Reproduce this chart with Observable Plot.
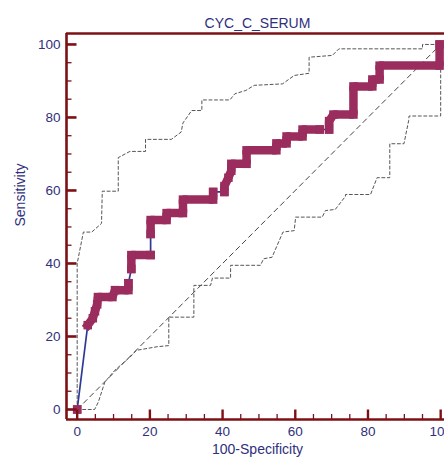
<!DOCTYPE html>
<html><head><meta charset="utf-8">
<script src="https://cdn.jsdelivr.net/npm/d3@7"></script>
<script src="https://cdn.jsdelivr.net/npm/@observablehq/plot@0.6"></script>
<style>html,body{margin:0;padding:0;overflow:hidden;background:#fff}</style>
</head><body><div id="chart"></div>
<script>
const title = "CYC_C_SERUM";
const xLabel = "100-Specificity";
const yLabel = "Sensitivity";
const majorTicks = [0, 20, 40, 60, 80, 100];
const minorTicks = [5, 10, 15, 25, 30, 35, 45, 50, 55, 65, 70, 75, 85, 90, 95];
const xDomain = [-2.94, 101.05];
const yDomain = [-2.74, 103.0];

// ROC curve points: run id (tied jumps separate runs), 100-Specificity, Sensitivity
const rocRun = [0,
  1,1,1,1,1,1,1,1,1,
  2,2,2,
  3,3,3,3,3,3,3,3,
  4,4,4,4,4,4,4,4,4,4,4,4,4,4,
  5,5,5,5,5,5,5,5,5,5,5];
const rocFpr = [0,
  2.9, 4.3, 4.9, 5.5, 5.7, 9.7, 10.4, 14.1, 14.1,
  14.9, 14.9, 20.2,
  20.2, 20.2, 24.6, 24.6, 29.1, 29.1, 37.4, 37.4,
  40.5, 40.5, 41.6, 42.4, 42.4, 46.6, 46.6, 54.8, 54.8, 57.6, 57.6, 62.0, 62.0, 66.7,
  69.3, 69.3, 70.5, 76.0, 76.0, 81.2, 81.2, 83.2, 83.2, 99.7, 99.7];
const rocTpr = [0,
  23.1, 25.0, 26.9, 28.8, 30.8, 30.8, 32.7, 32.7, 34.6,
  38.5, 42.3, 42.3,
  48.1, 51.9, 51.9, 53.8, 53.8, 57.5, 57.5, 59.6,
  59.6, 61.2, 63.5, 65.4, 67.3, 67.3, 71.0, 71.0, 72.9, 72.9, 74.8, 74.8, 76.7, 76.7,
  76.7, 79.0, 80.8, 80.8, 88.5, 88.5, 90.4, 90.4, 94.2, 94.2, 100];

// 95% confidence bounds
const upperFpr = [0, 0, 1.7, 4.0, 6.7, 6.9, 11.3, 11.3, 14.5, 18.8, 18.8, 25.9, 28.6, 29.1, 31.5, 34.3, 34.3, 42.0, 43.4, 46.4, 48.7, 56.5, 59.7, 63.8, 63.8, 70.2, 72.0, 95.0, 95.0, 100];
const upperTpr = [0, 40.0, 48.6, 48.6, 51.0, 59.8, 59.8, 69.0, 70.7, 70.7, 74.0, 74.0, 76.0, 78.5, 81.9, 81.9, 84.8, 84.8, 86.5, 87.4, 88.8, 89.2, 91.5, 92.1, 96.5, 97.0, 98.8, 98.8, 100, 100];
const lowerFpr = [0, 4.8, 5.8, 7.6, 10.3, 13.4, 14.5, 16.3, 22.0, 25.2, 25.2, 32.1, 32.1, 36.7, 37.2, 42.2, 42.2, 50.4, 51.3, 53.6, 56.6, 59.7, 60.1, 67.4, 68.3, 71.0, 73.8, 73.8, 80.7, 82.5, 86.0, 86.0, 89.9, 91.2, 91.3, 100, 100];
const lowerTpr = [0, 0, 2.0, 7.5, 10.7, 13.4, 14.3, 16.2, 17.2, 17.5, 25.3, 25.3, 34.0, 34.0, 36.0, 36.0, 39.5, 39.5, 41.3, 41.7, 48.6, 49.0, 52.7, 52.7, 54.5, 54.8, 58.4, 58.9, 58.9, 63.5, 63.5, 72.8, 72.8, 79.2, 80.4, 80.4, 100];
const diagFpr = [0, 100];
const diagTpr = [0, 100];

const toPts = (xs, ys) => xs.map((x, i) => ({x, y: ys[i]}));
const roc = rocFpr.map((x, i) => ({x, y: rocTpr[i], run: rocRun[i]}));
const upper = toPts(upperFpr, upperTpr);
const lower = toPts(lowerFpr, lowerTpr);
const diag = toPts(diagFpr, diagTpr);

const W = 444, H = 460, ML = 66, MR = 0, MT = 33, MB = 41;
// data units per pixel, to express inward tick lengths
const ux = (xDomain[1] - xDomain[0]) / (W - ML - MR);
const uy = (yDomain[1] - yDomain[0]) / (H - MT - MB);

const axisColor = "#7d1014";
const textColor = "#30307c";
const curveColor = "#9b2c5e";
const linkColor = "#2e3a94";

const chart = Plot.plot({
  width: W, height: H,
  marginLeft: ML, marginRight: MR, marginTop: MT, marginBottom: MB,
  style: {fontFamily: "'Liberation Sans', Arial, sans-serif", fontSize: "13.5px", color: textColor, background: "#fff"},
  x: {domain: xDomain, axis: null, label: null},
  y: {domain: yDomain, axis: null, label: null},
  marks: [
    Plot.line(diag, {x: "x", y: "y", stroke: "#444", strokeWidth: 1, strokeDasharray: "5,4"}),
    Plot.line(upper, {x: "x", y: "y", stroke: "#555", strokeWidth: 1, strokeDasharray: "3,2.5"}),
    Plot.line(lower, {x: "x", y: "y", stroke: "#555", strokeWidth: 1, strokeDasharray: "3,2.5"}),
    Plot.line(roc, {x: "x", y: "y", stroke: linkColor, strokeWidth: 1.7}),
    Plot.line(roc, {x: "x", y: "y", z: "run", stroke: curveColor, strokeWidth: 8.5, strokeLinejoin: "miter", strokeLinecap: "square"}),
    Plot.dot(roc, {x: "x", y: "y", symbol: "square", r: 4.8, fill: curveColor}),
    // axis lines (left, bottom, top)
    Plot.ruleX([xDomain[0]], {stroke: axisColor, strokeWidth: 2.6}),
    Plot.ruleY([yDomain[0]], {stroke: axisColor, strokeWidth: 2.6}),
    Plot.ruleY([yDomain[1]], {stroke: axisColor, strokeWidth: 2.4}),
    // inward ticks
    Plot.ruleY(majorTicks, {y: d => d, x1: xDomain[0], x2: xDomain[0] + 10.5 * ux, stroke: axisColor, strokeWidth: 2.6}),
    Plot.ruleY(minorTicks, {y: d => d, x1: xDomain[0], x2: xDomain[0] + 5.5 * ux, stroke: axisColor, strokeWidth: 1.3}),
    Plot.ruleX(majorTicks, {x: d => d, y1: yDomain[0], y2: yDomain[0] + 9.5 * uy, stroke: axisColor, strokeWidth: 2.4}),
    Plot.ruleX(minorTicks, {x: d => d, y1: yDomain[0], y2: yDomain[0] + 5 * uy, stroke: axisColor, strokeWidth: 1.3}),
    // tick labels
    Plot.text(majorTicks, {y: d => d, frameAnchor: "left", textAnchor: "end", dx: -6, text: d => String(d), fill: textColor, fontSize: 13.5}),
    Plot.text(majorTicks, {x: d => d, frameAnchor: "bottom", lineAnchor: "top", dy: 7, text: d => String(d), fill: textColor, fontSize: 13.5}),
    // titles
    Plot.text([title], {frameAnchor: "top", dy: -15, dx: 2, fill: textColor, fontSize: 14}),
    Plot.text([xLabel], {frameAnchor: "bottom", dy: 34, dx: 2, fill: textColor, fontSize: 14}),
    Plot.text([yLabel], {frameAnchor: "left", dx: -46, rotate: -90, fill: textColor, fontSize: 14})
  ]
});
document.getElementById("chart").appendChild(chart);
</script>
</body></html>
